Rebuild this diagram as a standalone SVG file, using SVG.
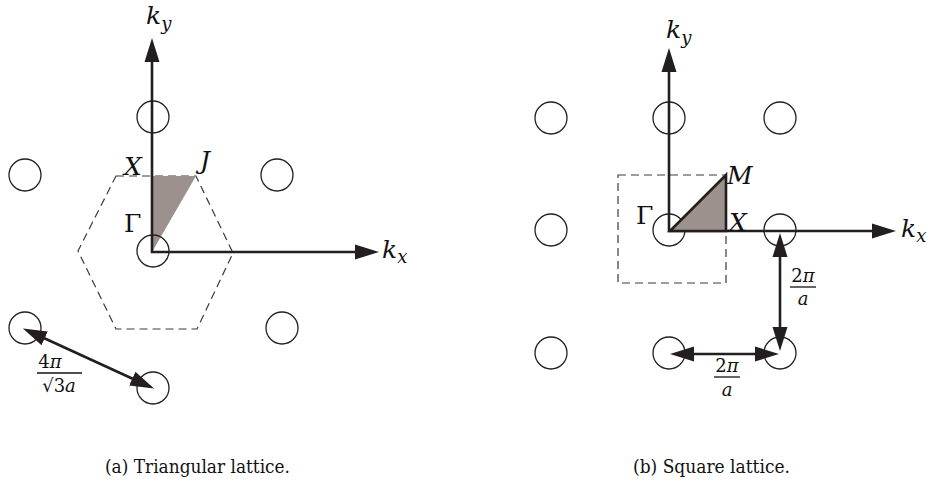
<svg xmlns="http://www.w3.org/2000/svg" width="935" height="493" viewBox="0 0 935 493">
<style>
.bg{fill:#fff}
.site{fill:none;stroke:#231f20;stroke-width:1.3}
.axis{stroke:#231f20;stroke-width:2.6;fill:none}
.dim{stroke:#231f20;stroke-width:2.6;fill:none}
.zone{fill:none;stroke:#3a3a3a;stroke-width:1.2;stroke-dasharray:8,5}
.ibz{fill:#9c918d}
.ibz2{fill:#9c918d;stroke:#231f20;stroke-width:2.6;stroke-linejoin:miter}
text{font-family:"DejaVu Serif","Liberation Serif",serif}
.m{font-style:italic;fill:#111}
.r{fill:#111}
.cap{font-size:19px;fill:#111}
.frac{stroke:#111;stroke-width:1.3}
</style>
<defs>
<marker id="ah" markerUnits="userSpaceOnUse" markerWidth="26" markerHeight="16" refX="1" refY="8" orient="auto-start-reverse">
<path d="M0,0.5 L24,8 L0,15.5 z" fill="#231f20"/>
</marker>
</defs>
<rect class="bg" x="0" y="0" width="935" height="493"/>

<!-- Panel (a) -->
<g id="a-zone"><polygon class="zone" points="116,176 196,176 233,253 197,329 116,329 78,251"/></g>
<g id="a-ibz"><polygon class="ibz" points="152,176 196,176 152,252"/></g>
<g id="a-sites">
<circle class="site" cx="153" cy="117" r="16"/>
<circle class="site" cx="25" cy="175" r="16"/>
<circle class="site" cx="277" cy="175" r="16"/>
<circle class="site" cx="153" cy="251" r="16"/>
<circle class="site" cx="25" cy="328" r="16"/>
<circle class="site" cx="282" cy="328" r="16"/>
<circle class="site" cx="153" cy="388" r="16"/>
</g>
<g id="a-connectors">
<line class="axis" x1="152" y1="253" x2="152" y2="61" marker-end="url(#ah)"/>
<line class="axis" x1="151" y1="252" x2="356" y2="252" marker-end="url(#ah)"/>
<line class="dim" x1="43.8" y1="338" x2="133.2" y2="379" marker-start="url(#ah)" marker-end="url(#ah)"/>
</g>
<g id="a-labels">
<text class="m" x="146" y="24" font-size="25">k<tspan font-size="18" dy="6">y</tspan></text>
<text class="m" x="382" y="258" font-size="25">k<tspan font-size="18" dy="5">x</tspan></text>
<text class="m" x="124" y="175" font-size="25">X</text>
<text class="m" x="200" y="169" font-size="25">J</text>
<text class="r" x="124" y="232" font-size="25">Γ</text>
<text class="r" x="50" y="368" font-size="18" text-anchor="middle">4<tspan font-style="italic">π</tspan></text>
<line class="frac" x1="37" y1="373" x2="82" y2="373"/>
<text class="r" x="59" y="392" font-size="18" text-anchor="middle">√3<tspan font-style="italic">a</tspan></text>
</g>
<text class="cap" x="105" y="473" textLength="185" lengthAdjust="spacingAndGlyphs">(a) Triangular lattice.</text>

<!-- Panel (b) -->
<g id="b-zone"><rect class="zone" x="618" y="175" width="108" height="108"/></g>
<g id="b-sites">
<circle class="site" cx="551" cy="118" r="16"/>
<circle class="site" cx="669" cy="118" r="16"/>
<circle class="site" cx="780" cy="118" r="16"/>
<circle class="site" cx="551" cy="230" r="16"/>
<circle class="site" cx="669" cy="230" r="16"/>
<circle class="site" cx="780" cy="230" r="16"/>
<circle class="site" cx="551" cy="353" r="16"/>
<circle class="site" cx="669" cy="353" r="16"/>
<circle class="site" cx="780" cy="353" r="16"/>
</g>
<g id="b-connectors">
<line class="axis" x1="669" y1="232" x2="669" y2="71" marker-end="url(#ah)"/>
<line class="axis" x1="668" y1="231" x2="873" y2="231" marker-end="url(#ah)"/>
<line class="dim" x1="780" y1="256" x2="780" y2="328" marker-start="url(#ah)" marker-end="url(#ah)"/>
<line class="dim" x1="693" y1="354" x2="756" y2="354" marker-start="url(#ah)" marker-end="url(#ah)"/>
</g>
<g id="b-ibz"><polygon class="ibz2" points="670,231 726,175 726,231"/></g>
<g id="b-labels">
<text class="m" x="666" y="38" font-size="25">k<tspan font-size="18" dy="6">y</tspan></text>
<text class="m" x="901" y="237" font-size="25">k<tspan font-size="18" dy="5">x</tspan></text>
<text class="m" x="727" y="184" font-size="25">M</text>
<text class="m" x="729" y="231" font-size="25">X</text>
<text class="r" x="636" y="224" font-size="25">Γ</text>
<text class="r" x="803" y="282" font-size="18" text-anchor="middle">2<tspan font-style="italic">π</tspan></text>
<line class="frac" x1="790" y1="287" x2="816" y2="287"/>
<text class="m" x="803" y="305" font-size="18" text-anchor="middle">a</text>
<text class="r" x="727" y="372" font-size="18" text-anchor="middle">2<tspan font-style="italic">π</tspan></text>
<line class="frac" x1="714" y1="377" x2="740" y2="377"/>
<text class="m" x="727" y="396" font-size="18" text-anchor="middle">a</text>
</g>
<text class="cap" x="633" y="473" textLength="157" lengthAdjust="spacingAndGlyphs">(b) Square lattice.</text>
</svg>
